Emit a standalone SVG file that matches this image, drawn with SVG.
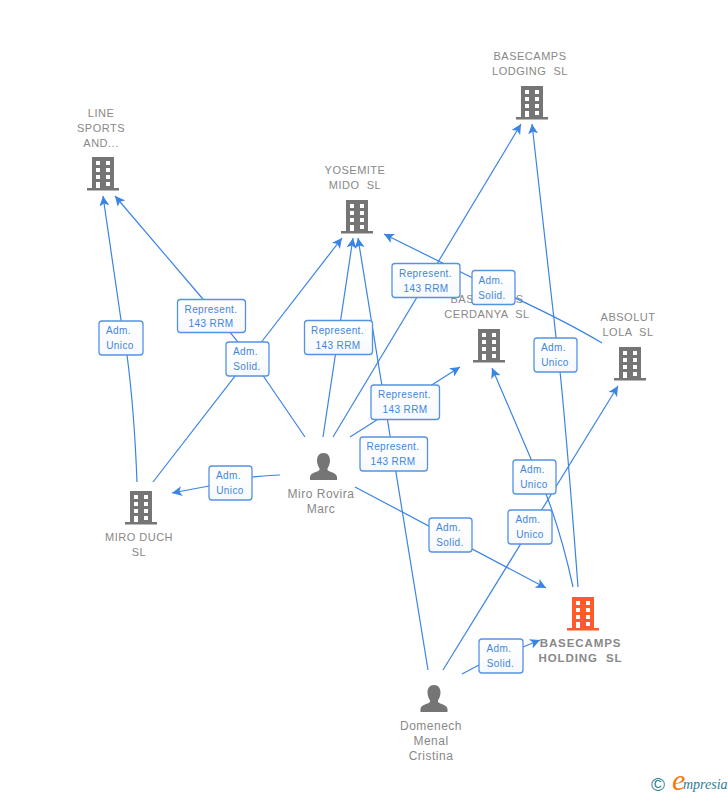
<svg xmlns="http://www.w3.org/2000/svg" width="728" height="795" viewBox="0 0 728 795">
<style>
.n{font:11px "Liberation Sans",Arial,sans-serif;fill:#888;text-anchor:middle;letter-spacing:.5px;white-space:pre}
.h{font-weight:bold;font-size:11.500px;letter-spacing:.9px}
.p{font-size:12px}
.l{font:10px "Liberation Sans",Arial,sans-serif;fill:#4285dc;text-anchor:middle;letter-spacing:.4px}
.c path{fill:none;stroke:#3a84e4;stroke-width:1.2;marker-end:url(#a)}
.b{fill:url(#g);stroke:#5592e4;stroke-width:1.300}
</style>
<defs>
<linearGradient id="g" x1="0" y1="0" x2="0" y2="1"><stop offset="0" stop-color="#fff"/><stop offset="1" stop-color="#f6f9fd"/></linearGradient>
<marker id="a" markerUnits="userSpaceOnUse" markerWidth="12" markerHeight="11" refX="10" refY="5.500" orient="auto"><path d="M0 .5L10 5.500L0 10.500L2.500 5.500Z" fill="#3a84e4"/></marker>
<g id="bld"><path fill-rule="evenodd" d="M-11 0H11V31H16V33.500H-16V31H-11ZM-7 4V8H-3V4ZM3 4V8H7V4ZM-7 11V15H-3V11ZM3 11V15H7V11ZM-7 18V22H-3V18ZM3 18V22H7V18ZM-7 25V31H-3V25ZM3 25V29H7V25Z"/></g>
<g id="per"><path d="M0 0C4.500 0 6.500 3.500 6.500 7.500C6.500 11 5 14 4 15.500V17C6 19 13.500 20 13.500 24V27H-13.500V24C-13.500 20 -6 19 -4 17V15.500C-5 14 -6.500 11 -6.500 7.500C-6.500 3.500 -4.500 0 0 0Z"/></g>
</defs>
<rect width="728" height="795" fill="#fff"/>
<g id="line-sports"><use href="#bld" x="103" y="157" fill="#757575"/><text class="n"><tspan x="101" y="117">LINE</tspan><tspan x="101" y="132">SPORTS</tspan><tspan x="101" y="147">AND...</tspan></text></g>
<g id="yosemite"><use href="#bld" x="357" y="200" fill="#757575"/><text class="n"><tspan x="355" y="174">YOSEMITE</tspan><tspan x="355" y="189">MIDO  SL</tspan></text></g>
<g id="lodging"><use href="#bld" x="532" y="86" fill="#757575"/><text class="n"><tspan x="530" y="60">BASECAMPS</tspan><tspan x="530" y="75">LODGING  SL</tspan></text></g>
<g id="cerdanya"><use href="#bld" x="489" y="329" fill="#757575"/><text class="n"><tspan x="487" y="303">BASECAMPS</tspan><tspan x="487" y="318">CERDANYA  SL</tspan></text></g>
<g id="absolut"><use href="#bld" x="630" y="347" fill="#757575"/><text class="n"><tspan x="628" y="321">ABSOLUT</tspan><tspan x="628" y="336">LOLA  SL</tspan></text></g>
<g id="miro-duch"><use href="#bld" x="141" y="491" fill="#757575"/><text class="n"><tspan x="139" y="541">MIRO DUCH</tspan><tspan x="139" y="556">SL</tspan></text></g>
<g id="holding"><use href="#bld" x="583" y="597" fill="#ff5a2c"/><text class="n h"><tspan x="580.500" y="647">BASECAMPS</tspan><tspan x="580.500" y="662">HOLDING  SL</tspan></text></g>
<g id="miro-rovira"><use href="#per" x="323.500" y="453" fill="#757575"/><text class="n p"><tspan x="321" y="498">Miro Rovira</tspan><tspan x="321" y="513">Marc</tspan></text></g>
<g id="domenech"><use href="#per" x="434" y="685" fill="#757575"/><text class="n p"><tspan x="431" y="730">Domenech</tspan><tspan x="431" y="745">Menal</tspan><tspan x="431" y="760">Cristina</tspan></text></g>
<g class="c" id="connectors">
<path d="M137 482C135 430 131 385 127 355L121 320L103 196"/>
<path d="M305 437L264 377L238 342L202 298L115 196"/>
<path d="M153 482L342 238"/>
<path d="M323 437L353 238"/>
<path d="M428 670L358 238"/>
<path d="M333 437L521 124"/>
<path d="M350 437L460 367"/>
<path d="M602 343C560 318 520 300 493 288L384 234"/>
<path d="M578 587C570 480 562 380 556 337L532 124"/>
<path d="M573 587C565 550 556 520 546 494L531 459L492 368"/>
<path d="M443 670L618 386"/>
<path d="M355 487L546 588"/>
<path d="M280 475C270 475 262 476 252 477L209 486L172 493"/>
<path d="M462 674L479 665L523 647L540 640"/>
</g>
<g id="labels">
<rect class="b" x="99" y="321" width="44" height="34" rx="3"/><text class="l"><tspan x="118.500" y="334">Adm.</tspan><tspan x="120" y="349">Unico</tspan></text>
<rect class="b" x="177.500" y="299.500" width="68" height="33" rx="3"/><text class="l"><tspan x="211" y="313">Represent.</tspan><tspan x="211" y="327">143 RRM</tspan></text>
<rect class="b" x="226" y="342" width="43" height="34" rx="3"/><text class="l"><tspan x="245.500" y="355">Adm.</tspan><tspan x="247" y="370">Solid.</tspan></text>
<rect class="b" x="304.500" y="320.500" width="68" height="34" rx="3"/><text class="l"><tspan x="337.500" y="334">Represent.</tspan><tspan x="338" y="349">143 RRM</tspan></text>
<rect class="b" x="392" y="263.500" width="68" height="34" rx="3"/><text class="l"><tspan x="425.500" y="277">Represent.</tspan><tspan x="426" y="292">143 RRM</tspan></text>
<rect class="b" x="472" y="270.500" width="43" height="34" rx="3"/><text class="l"><tspan x="491" y="284">Adm.</tspan><tspan x="492" y="299">Solid.</tspan></text>
<rect class="b" x="371" y="385" width="68.500" height="34.500" rx="3"/><text class="l"><tspan x="404.500" y="398">Represent.</tspan><tspan x="405" y="413">143 RRM</tspan></text>
<rect class="b" x="360" y="437" width="67.500" height="34" rx="3"/><text class="l"><tspan x="393" y="450">Represent.</tspan><tspan x="393" y="465">143 RRM</tspan></text>
<rect class="b" x="534" y="338" width="43" height="34" rx="3"/><text class="l"><tspan x="553.500" y="351">Adm.</tspan><tspan x="555" y="366">Unico</tspan></text>
<rect class="b" x="513" y="460" width="43" height="34" rx="3"/><text class="l"><tspan x="532.500" y="473">Adm.</tspan><tspan x="534" y="488">Unico</tspan></text>
<rect class="b" x="508" y="510" width="44" height="34" rx="3"/><text class="l"><tspan x="528" y="523">Adm.</tspan><tspan x="530" y="538">Unico</tspan></text>
<rect class="b" x="209" y="466" width="43" height="34" rx="3"/><text class="l"><tspan x="228.500" y="479">Adm.</tspan><tspan x="230" y="494">Unico</tspan></text>
<rect class="b" x="429" y="518" width="43" height="34" rx="3"/><text class="l"><tspan x="448.500" y="531">Adm.</tspan><tspan x="450" y="546">Solid.</tspan></text>
<rect class="b" x="479" y="639" width="44" height="34" rx="3"/><text class="l"><tspan x="499" y="652">Adm.</tspan><tspan x="500.500" y="667">Solid.</tspan></text>
</g>
<g id="logo"><text x="658" y="791" font-family="Liberation Sans,sans-serif" font-size="19" fill="#2e7d95" text-anchor="middle">©</text>
<text x="672" y="790" font-family="Liberation Serif,serif" font-style="italic" font-size="30" fill="#f07c12">e</text><text x="683" y="789" font-family="Liberation Serif,serif" font-style="italic" font-size="14" fill="#2e7d95">mpresia</text></g>
</svg>
